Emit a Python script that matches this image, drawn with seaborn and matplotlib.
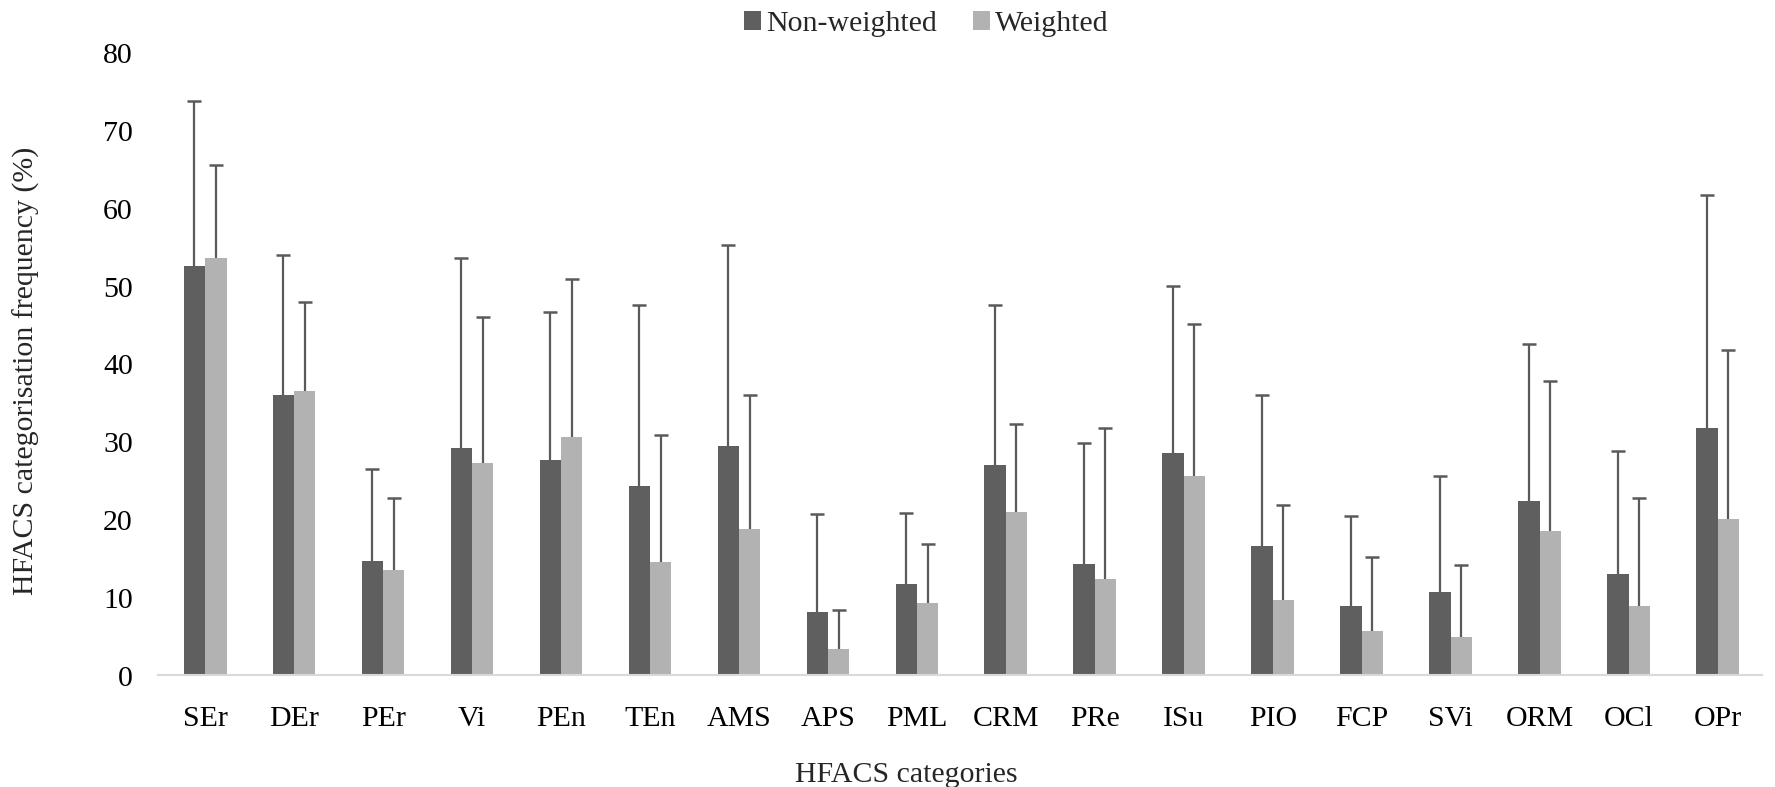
import matplotlib
matplotlib.use("Agg")
import matplotlib.pyplot as plt
import matplotlib.transforms as mtransforms
import seaborn as sns
import pandas as pd
import numpy as np
from matplotlib.patches import Patch

categories = ["SEr", "DEr", "PEr", "Vi", "PEn", "TEn", "AMS", "APS", "PML", "CRM",
              "PRe", "ISu", "PIO", "FCP", "SVi", "ORM", "OCl", "OPr"]
non_weighted = [52.5, 35.9, 14.6, 29.1, 27.6, 24.3, 29.4, 8.1, 11.7, 27.0,
                14.2, 28.5, 16.6, 8.9, 10.7, 22.3, 13.0, 31.7]
weighted = [53.5, 36.5, 13.5, 27.2, 30.6, 14.5, 18.7, 3.4, 9.2, 20.9,
            12.3, 25.5, 9.6, 5.6, 4.9, 18.5, 8.9, 20.0]
# upper ends of the error bars
non_weighted_upper = [73.7, 53.9, 26.4, 53.5, 46.6, 47.5, 55.2, 20.7, 20.8, 47.5,
                      29.8, 49.9, 35.9, 20.4, 25.5, 42.5, 28.7, 61.7]
weighted_upper = [65.5, 47.9, 22.7, 46.0, 50.9, 30.8, 35.9, 8.4, 16.8, 32.2,
                  31.7, 45.1, 21.8, 15.1, 14.1, 37.7, 22.7, 41.7]
series = ["Non-weighted", "Weighted"]
yticks = [0, 10, 20, 30, 40, 50, 60, 70, 80]

df = pd.DataFrame({
    "category": categories * 2,
    "series": [series[0]] * len(categories) + [series[1]] * len(categories),
    "value": non_weighted + weighted,
})

sns.set_theme(style="white")
plt.rcParams["font.family"] = ["Liberation Serif", "DejaVu Serif"]

colors = {"Non-weighted": "#5f5f5f", "Weighted": "#b2b2b2"}
FS = 21.5

fig = plt.figure(figsize=(17.75, 7.87), dpi=100)
ax = fig.add_axes([158 / 1775, 1 - 675 / 787, (1762 - 158) / 1775, (675 - 52) / 787])

sns.barplot(data=df, x="category", y="value", hue="series", order=categories,
            hue_order=series, palette=colors, width=0.48, gap=0, ax=ax,
            legend=False, saturation=1, linewidth=0)

bar_containers = list(ax.containers)
uppers = [non_weighted_upper, weighted_upper]
vals = [non_weighted, weighted]
for ci, cont in enumerate(bar_containers):
    xs = [p.get_x() + p.get_width() / 2 for p in cont.patches]
    v = np.array(vals[ci])
    up = np.array(uppers[ci]) - v
    eb = ax.errorbar(xs, v, yerr=[np.zeros_like(up), up], fmt="none",
                     ecolor="#5a5a5a", elinewidth=1.6, capsize=5, capthick=1.8, zorder=3)
    caplines = eb[1]
    if len(caplines) == 2:
        caplines[0].set_visible(False)

ax.set_ylim(0, 80)
ax.set_xlim(-0.53, 17.5)
ax.set_yticks(yticks)
ax.set_yticklabels([str(t) for t in yticks])
for s in ["top", "right", "left"]:
    ax.spines[s].set_visible(False)
ax.spines["bottom"].set_color("#d9d9d9")
ax.spines["bottom"].set_linewidth(1.5)
ax.tick_params(axis="y", length=0, pad=18, labelsize=FS, colors="black")
ax.tick_params(axis="x", length=0, pad=22, labelsize=FS, colors="black")
offset = mtransforms.ScaledTranslation(0, -4 / 100, fig.dpi_scale_trans)
for lbl in ax.get_yticklabels():
    lbl.set_va("center")
    lbl.set_transform(lbl.get_transform() + offset)
ax.set_xlabel("")
ax.set_ylabel("")

fig.text(26 / 1775, 1 - 371 / 787, "HFACS categorisation frequency (%)",
         rotation=90, ha="center", va="center", fontsize=FS)
fig.text(906 / 1775, 1 - 775 / 787, "HFACS categories",
         ha="center", va="center", fontsize=FS)

handles = [Patch(facecolor=colors[s], edgecolor="none", label=s) for s in series]
fig.legend(handles=handles, loc="center", bbox_to_anchor=(926 / 1775, 1 - 24 / 787),
           ncol=2, frameon=False, fontsize=FS, handlelength=0.6, handleheight=0.6,
           handletextpad=0.15, columnspacing=1.2)

fig.savefig("out.png", dpi=100)
